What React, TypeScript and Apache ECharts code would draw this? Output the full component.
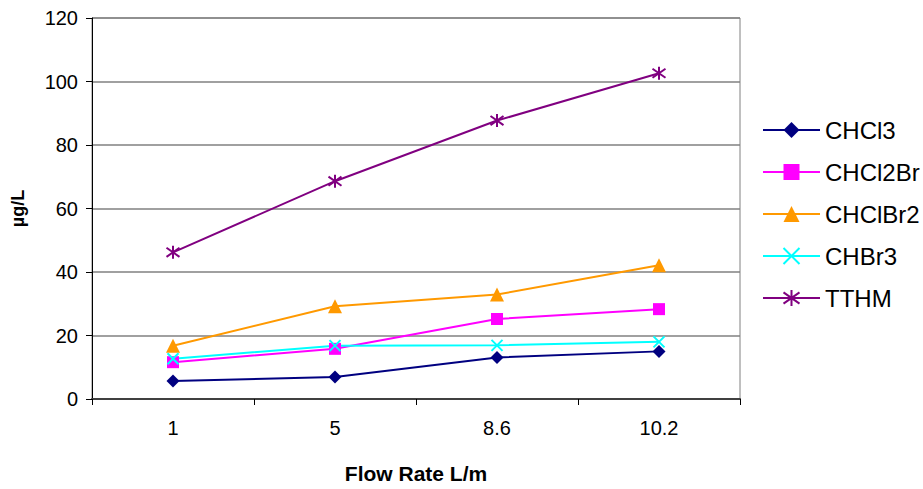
import React, { useEffect, useRef } from "react";
import * as echarts from "echarts";

const categories = ["1", "5", "8.6", "10.2"];
const chcl3 = [5.7, 6.9, 13.1, 15.0];
const chcl2br = [11.6, 15.8, 25.2, 28.3];
const chclbr2 = [16.8, 29.2, 32.9, 42.1];
const chbr3 = [12.7, 16.8, 16.9, 18.0];
const tthm = [46.2, 68.6, 87.7, 102.6];

const xName = "Flow Rate L/m";
const yName = "µg/L";

const FONT = "'Liberation Sans', Arial, sans-serif";
const crossPath = "path://M0,0L10,10M10,0L0,10";
const starPath = "path://M5,0L5,10M0.7,1.5L9.3,8.5M9.3,1.5L0.7,8.5";

export default function App() {
  const ref = useRef<HTMLDivElement>(null);
  useEffect(() => {
    if (!ref.current) return;
    const chart = echarts.init(ref.current, undefined, { renderer: "svg" });
    const mk = (name: string, data: number[], color: string, symbol: string, size: number, stroke = false) => ({
      name,
      type: "line",
      data,
      symbol,
      symbolSize: size,
      lineStyle: { color, width: 2 },
      itemStyle: stroke
        ? { color: "rgba(0,0,0,0)", borderColor: color, borderWidth: 2 }
        : { color, borderWidth: 0 },
      emphasis: { disabled: true },
    });
    chart.setOption({
      animation: false,
      textStyle: { fontFamily: FONT },
      grid: {
        left: 92,
        right: 183,
        top: 18,
        bottom: 85,
        show: true,
        borderColor: "#808080",
        borderWidth: 1,
      },
      legend: {
        orient: "vertical",
        left: 757,
        top: 113,
        itemWidth: 57,
        itemHeight: 20,
        itemGap: 18,
        textStyle: { fontSize: 24, color: "#000", fontFamily: FONT },
        data: ["CHCl3", "CHCl2Br", "CHClBr2", "CHBr3", "TTHM"],
      },
      xAxis: {
        type: "category",
        data: categories,
        boundaryGap: true,
        name: xName,
        nameLocation: "middle",
        nameGap: 64,
        nameTextStyle: { fontSize: 21, fontWeight: "bold", color: "#000", fontFamily: FONT },
        axisLine: { lineStyle: { color: "#404040", width: 2 } },
        axisTick: { show: true, length: 6, lineStyle: { color: "#000" } },
        axisLabel: { fontSize: 20, color: "#000", margin: 19, fontFamily: FONT },
        splitLine: { show: false },
      },
      yAxis: {
        type: "value",
        min: 0,
        max: 120,
        interval: 20,
        name: yName,
        nameLocation: "middle",
        nameGap: 65,
        nameRotate: 90,
        nameTextStyle: { fontSize: 18, fontWeight: "bold", color: "#000", fontFamily: FONT },
        axisLine: { show: true, lineStyle: { color: "#000", width: 1 } },
        axisTick: { show: true, length: 6, lineStyle: { color: "#000" } },
        axisLabel: { fontSize: 20, color: "#000", margin: 14, fontFamily: FONT },
        splitLine: { show: true, lineStyle: { color: "#808080", width: 1.5 } },
      },
      series: [
        mk("CHCl3", chcl3, "#000080", "diamond", 13),
        mk("CHCl2Br", chcl2br, "#FF00FF", "rect", 12),
        mk("CHClBr2", chclbr2, "#FF9900", "triangle", 14),
        mk("CHBr3", chbr3, "#00FFFF", crossPath, 11, true),
        mk("TTHM", tthm, "#800080", starPath, 13, true),
      ],
    });
    return () => chart.dispose();
  }, []);
  return (
    <div
      ref={ref}
      style={{ position: "absolute", left: 0, top: 0, width: 923, height: 489 }}
    />
  );
}
